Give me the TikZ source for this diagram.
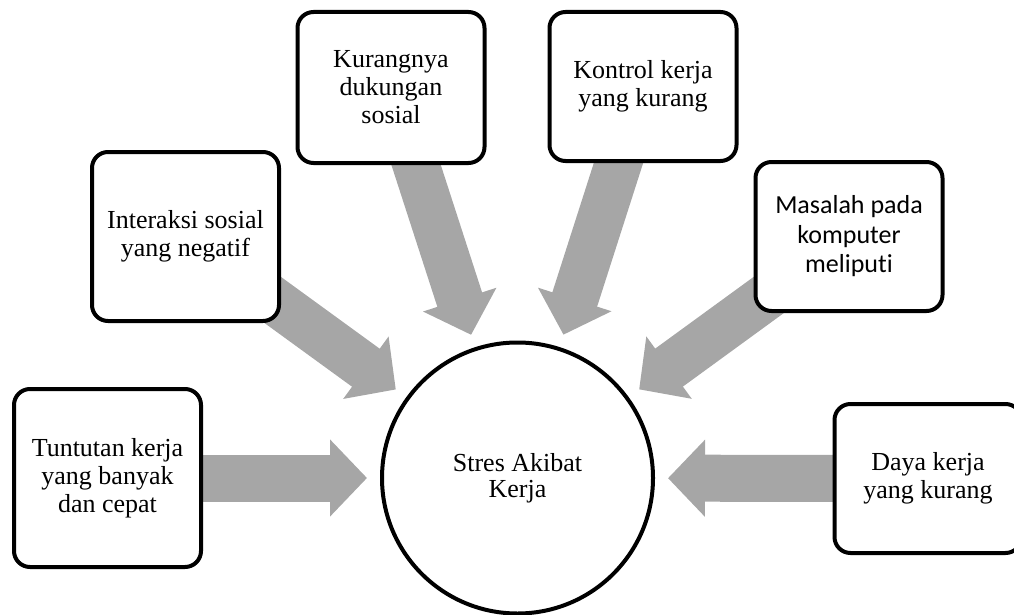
\documentclass[tikz,border=0pt]{standalone}
\usepackage{fontspec}
\setmainfont{Liberation Serif}
\newfontfamily\calibrifont[Ligatures=NoCommon]{Carlito}
\usepackage{tikz}
\usetikzlibrary{arrows.meta, backgrounds, positioning}
\definecolor{arrowgray}{RGB}{166,166,166}
\tikzset{
	causebox/.style={draw, line width=4pt, rounded corners=16pt, fill=white, align=center,
	  minimum width=187pt, minimum height=150pt, font=\fontsize{26}{28}\selectfont}
}
\tikzset{
	bigarrow/.style={draw=arrowgray, line width=47pt, -{Triangle[width=75pt, length=37pt]}, shorten >=13pt}
}
\begin{document}
\begin{tikzpicture}[x=1pt, y=-1pt]
      \useasboundingbox (0,0) rectangle (1014,615);
      \node[draw, line width=4pt, circle, fill=white, minimum size=271pt, align=center, font=\fontsize{26}{26}\selectfont] (S) at (517.5,478) {Stres Akibat\\Kerja};
      \node[causebox, minimum height=178pt] (TK) at (107.5,478) {Tuntutan kerja\\yang banyak\\dan cepat};
      \node[causebox, minimum height=169pt] (IS) at (185.5,236.5) {Interaksi sosial\\yang negatif};
      \node[causebox, minimum height=151pt] (KD) at (391,87.5) {Kurangnya\\dukungan\\sosial};
      \node[causebox, minimum height=149pt] (KK) at (643,86.5) {Kontrol kerja\\yang kurang};
      \node[causebox, minimum height=149pt, font=\calibrifont\fontsize{26}{29.5}\selectfont] (MK) at (849,236.5) {Masalah pada\\komputer\\meliputi};
      \node[causebox, minimum height=149pt] (DK) at (928,478.5) {Daya kerja\\yang kurang};
      \begin{scope}[on background layer]
        \foreach \c in {TK, IS, KD, KK, MK, DK}
          \draw[bigarrow] (\c.center) -- (S);
      \end{scope}
    \end{tikzpicture}
\end{document}
